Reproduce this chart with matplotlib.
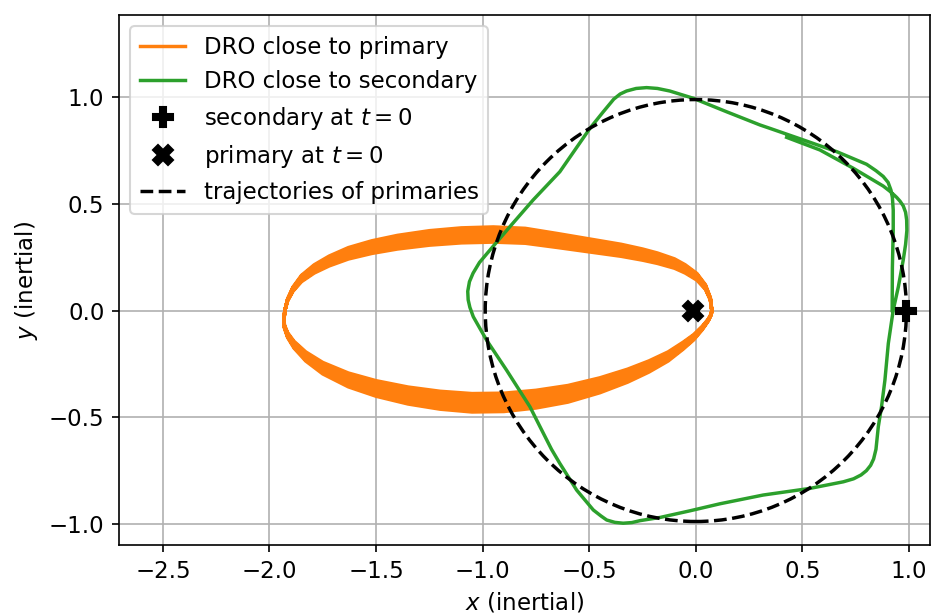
import matplotlib
matplotlib.use("Agg")
import matplotlib.pyplot as plt
from matplotlib.patches import Circle
from matplotlib.lines import Line2D
import numpy as np

plt.rcParams["font.size"] = 11

# ---- data ----
# DRO close to primary: one loop outline (middle of the band), x / y
orange_x = [0.075, 0.068, 0.045, 0.005, -0.05, -0.10, -0.18, -0.25, -0.35, -0.50, -0.65, -0.80,
            -0.95, -1.10, -1.25, -1.40, -1.52, -1.63, -1.72, -1.79, -1.85, -1.89, -1.915, -1.928,
            -1.932, -1.930, -1.915, -1.885, -1.83, -1.75, -1.63, -1.50, -1.35, -1.20, -1.05,
            -0.90, -0.75, -0.60, -0.45, -0.32, -0.22, -0.13, -0.06, -0.01, 0.03, 0.058, 0.072, 0.075]
orange_y = [0.000, 0.055, 0.110, 0.158, 0.195, 0.220, 0.245, 0.262, 0.282, 0.305, 0.328, 0.350,
            0.356, 0.352, 0.340, 0.320, 0.297, 0.268, 0.232, 0.195, 0.150, 0.100, 0.050, 0.000,
            -0.040, -0.075, -0.115, -0.160, -0.215, -0.270, -0.325, -0.365, -0.398, -0.420, -0.432,
            -0.430, -0.415, -0.390, -0.350, -0.305, -0.262, -0.215, -0.165, -0.125, -0.082, -0.045,
            -0.018, 0.000]
# vertical spread of the successive loops
orange_scale = [0.900, 0.929, 0.957, 0.986, 1.014, 1.043, 1.071, 1.100]

# DRO close to secondary
green_x = [0.921, 0.922, 0.926, 0.926, 0.922, 0.915, 0.902, 0.879, 0.845, 0.801, 0.661, 0.504,
           0.348, 0.301, 0.144, -0.012, -0.122, -0.18, -0.231, -0.28, -0.325, -0.355, -0.385,
           -0.434, -0.497, -0.638, -0.763, -0.872, -0.966, -1.015, -1.045, -1.062, -1.070, -1.068,
           -1.060, -1.044, -0.982, -0.888, -0.778, -0.731, -0.677, -0.638, -0.559, -0.481, -0.445,
           -0.418, -0.380, -0.341, -0.300, -0.262, -0.168, -0.028, 0.113, 0.316, 0.535, 0.692,
           0.740, 0.775, 0.800, 0.820, 0.834, 0.845, 0.856, 0.871, 0.887, 0.903, 0.926, 0.950,
           0.973, 0.984, 0.990, 0.989, 0.984, 0.973, 0.958, 0.942, 0.915, 0.879, 0.739, 0.582,
           0.426]
green_y = [0.000, 0.200, 0.376, 0.471, 0.530, 0.565, 0.600, 0.628, 0.655, 0.685, 0.744, 0.799,
           0.853, 0.869, 0.931, 0.994, 1.028, 1.040, 1.044, 1.040, 1.028, 1.014, 0.990,
           0.931, 0.853, 0.650, 0.518, 0.393, 0.283, 0.225, 0.175, 0.135, 0.090, 0.050,
           0.015, -0.029, -0.138, -0.279, -0.451, -0.544, -0.650, -0.716, -0.841, -0.934, -0.962,
           -0.981, -0.992, -0.996, -0.993, -0.984, -0.969, -0.938, -0.905, -0.864, -0.833, -0.802,
           -0.788, -0.770, -0.750, -0.725, -0.695, -0.650, -0.544, -0.451, -0.326, -0.154, 0.002, 0.111,
           0.237, 0.310, 0.375, 0.424, 0.460, 0.490, 0.512, 0.530, 0.555, 0.583, 0.666, 0.752,
           0.811]

secondary_pos = (0.988, 0.0)
primary_pos = (-0.012, 0.0)
primary_orbit_radius = [0.988, 0.012]

x_lim = (-2.706, 1.0985)
y_lim = (-1.098, 1.384)

# ---- figure ----
fig = plt.figure(figsize=(933 / 150, 616 / 150), dpi=150)
ax = fig.add_axes([119 / 933, 1 - 545 / 616, (930 - 119) / 933, (545 - 15) / 616])

lw = 1.65
ox = np.array(orange_x)
oy = np.array(orange_y)
all_x, all_y = [], []
for s in orange_scale:
    all_x.extend(ox)
    all_y.extend(oy * s)
ax.plot(all_x, all_y, color="C1", lw=lw, label="DRO close to primary")
ax.plot(green_x, green_y, color="C2", lw=lw, label="DRO close to secondary")
ax.plot([secondary_pos[0]], [secondary_pos[1]], "P", color="k", ms=10,
        label="secondary at $t=0$")
ax.plot([primary_pos[0]], [primary_pos[1]], "X", color="k", ms=10,
        label="primary at $t=0$")
for r in primary_orbit_radius:
    ax.add_patch(Circle((0, 0), r, fill=False, ls="--", lw=lw, ec="k", zorder=3))

handles, labels = ax.get_legend_handles_labels()
handles.append(Line2D([], [], color="k", ls="--", lw=lw))
labels.append("trajectories of primaries")
ax.legend(handles, labels, loc="upper left")

ax.set_xlim(*x_lim)
ax.set_ylim(*y_lim)
ax.set_xticks([-2.5, -2.0, -1.5, -1.0, -0.5, 0.0, 0.5, 1.0])
ax.set_yticks([-1.0, -0.5, 0.0, 0.5, 1.0])
ax.grid(True)
ax.set_axisbelow(True)
ax.set_xlabel("$x$ (inertial)")
ax.set_ylabel("$y$ (inertial)")

fig.savefig("out.png", dpi=150)
